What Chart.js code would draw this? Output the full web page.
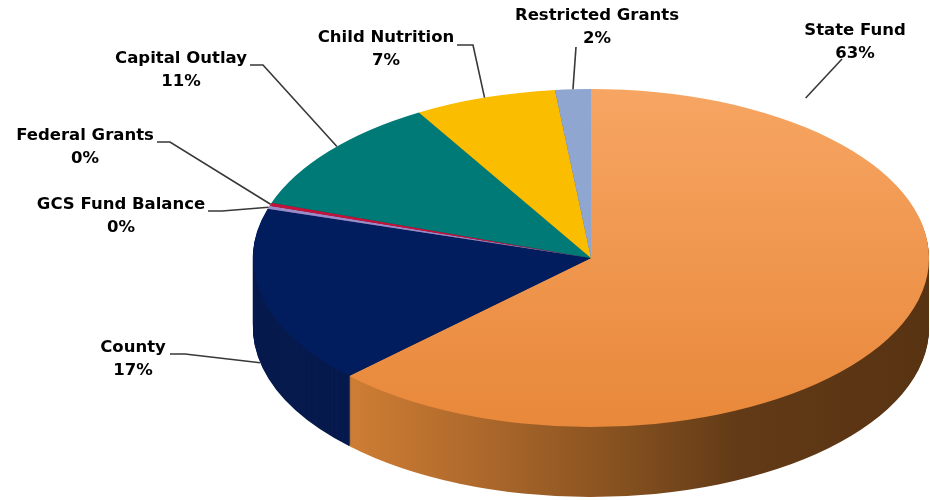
<!DOCTYPE html>
<html>
<head>
<meta charset="utf-8">
<script src="https://cdn.jsdelivr.net/npm/chart.js@4/dist/chart.umd.min.js"></script>
<style>
  body { margin: 0; background: #fff; }
  canvas { display: block; }
</style>
</head>
<body>
<canvas id="fundChart" width="930" height="500"></canvas>
<script>
// data, clockwise from 12 o'clock
const categories = ['State Fund', 'County', 'GCS Fund Balance', 'Federal Grants', 'Capital Outlay', 'Child Nutrition', 'Restricted Grants'];
const shares = [62.7, 17.0, 0.3, 0.3, 11.2, 6.8, 1.7];

// colours of the top face and of the rim, same order as categories
const sliceTop = ['#f4a05e', '#011d5e', '#9c8bc9', '#c3133b', '#007a77', '#fbbd00', '#8fa6d0'];
const sliceRim = ['#5c3614', '#071a4d', '#5f5480', '#7a0c26', '#004e4c', '#a07900', '#5b6a86'];

// where the flat pie sits on the page
const pie = { cx: 591, cy: 258, rx: 338, ry: 169, depth: 70 };

// label boxes and leader lines
const labelSpots = [
  { tx: 855, ty: 31, via: [[842, 59]], f: 0.15, k: 1.14, drop: 0 },
  { tx: 133, ty: 348, via: [[170, 354], [185, 354]], f: 0.53, k: 1, drop: 70 },
  { tx: 121, ty: 205, via: [[208, 211], [222, 211]], f: 0.5, k: 1, drop: 0 },
  { tx: 85, ty: 136, via: [[157, 142], [170, 142]], f: 0.5, k: 1, drop: 0 },
  { tx: 181, ty: 59, via: [[250, 65], [263, 65]], f: 0.55, k: 1, drop: 0 },
  { tx: 386, ty: 38, via: [[457, 45], [473, 45]], f: 0.5, k: 1, drop: 0 },
  { tx: 597, ty: 16, via: [[576, 47]], f: 0.5, k: 1, drop: 0 }
];

function place(ctx, el, dy) {
  ctx.translate(pie.cx, pie.cy + dy);
  ctx.scale(pie.rx / el.outerRadius, pie.ry / el.outerRadius);
  ctx.translate(-el.x, -el.y);
}

function paint(ctx, el, fill) {
  const saved = el.options;
  el.options = Object.assign({}, saved, { backgroundColor: fill, borderWidth: 0 });
  el.draw(ctx);
  el.options = saved;
}

const pie3d = {
  id: 'pie3d',
  beforeDatasetsDraw(chart) {
    const ctx = chart.ctx;
    const arcs = chart.getDatasetMeta(0).data;
    const el0 = arcs[0];
    const R = el0.outerRadius;

    // rim: orange side gets a left-to-right shade
    const rimFills = sliceRim.map((c, i) => {
      if (i !== 0) return c;
      const g = ctx.createLinearGradient(el0.x - R, 0, el0.x + R, 0);
      g.addColorStop(0, '#e08b3e');
      g.addColorStop(0.14, '#cf7e34');
      g.addColorStop(0.35, '#ab672b');
      g.addColorStop(0.55, '#84501f');
      g.addColorStop(0.72, '#623a17');
      g.addColorStop(1, '#583312');
      return g;
    });
    for (let d = pie.depth; d >= 1; d--) {
      ctx.save();
      place(ctx, el0, d);
      arcs.forEach((el, i) => paint(ctx, el, rimFills[i]));
      ctx.restore();
    }

    // top face
    const topFills = sliceTop.map((c, i) => {
      if (i !== 0) return c;
      const g = ctx.createLinearGradient(0, el0.y - R, 0, el0.y + R);
      g.addColorStop(0, '#f7a563');
      g.addColorStop(1, '#e8883a');
      return g;
    });
    ctx.save();
    place(ctx, el0, 0);
    arcs.forEach((el, i) => paint(ctx, el, topFills[i]));
    ctx.restore();
    return false;
  },
  afterDraw(chart) {
    const ctx = chart.ctx;
    const arcs = chart.getDatasetMeta(0).data;
    const total = shares.reduce((a, b) => a + b, 0);
    ctx.save();
    ctx.font = 'bold 16.5px "DejaVu Sans"';
    ctx.textAlign = 'center';
    ctx.textBaseline = 'middle';
    ctx.fillStyle = '#000';
    categories.forEach((name, i) => {
      const s = labelSpots[i];
      ctx.fillText(name, s.tx, s.ty);
      ctx.fillText(Math.round(shares[i] / total * 100) + '%', s.tx, s.ty + 23);
    });
    ctx.strokeStyle = '#383838';
    ctx.lineWidth = 1.6;
    arcs.forEach((el, i) => {
      const s = labelSpots[i];
      const a = el.startAngle + (el.endAngle - el.startAngle) * s.f;
      const ax = pie.cx + Math.cos(a) * pie.rx * s.k;
      const ay = pie.cy + Math.sin(a) * pie.ry * s.k + s.drop;
      ctx.beginPath();
      ctx.moveTo(s.via[0][0], s.via[0][1]);
      s.via.slice(1).forEach(p => ctx.lineTo(p[0], p[1]));
      ctx.lineTo(ax, ay);
      ctx.stroke();
    });
    ctx.restore();
  }
};

new Chart(document.getElementById('fundChart'), {
  type: 'pie',
  data: {
    labels: categories,
    datasets: [{ data: shares, backgroundColor: sliceTop, borderWidth: 0 }]
  },
  options: {
    responsive: false,
    animation: false,
    events: [],
    plugins: { legend: { display: false }, tooltip: { enabled: false } }
  },
  plugins: [pie3d]
});
</script>
</body>
</html>
